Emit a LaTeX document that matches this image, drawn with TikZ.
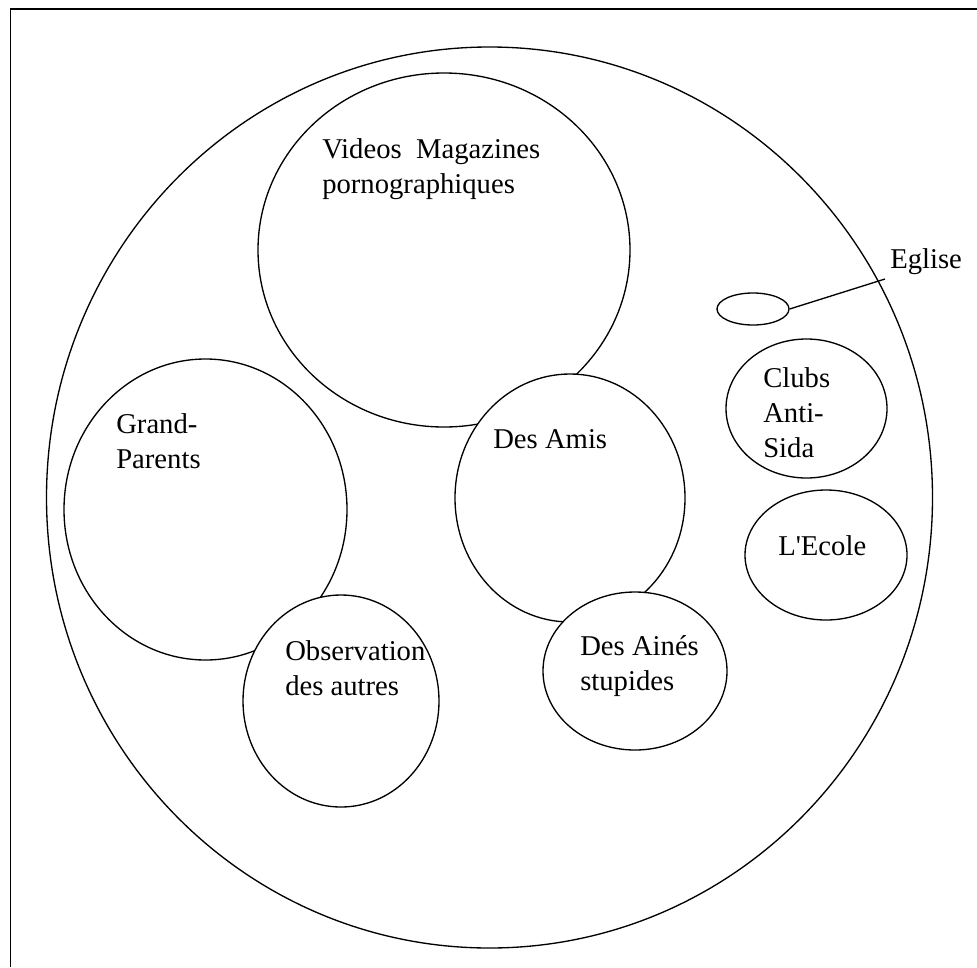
\documentclass[tikz,border=0pt]{standalone}
\usepackage{fontspec}
\setmainfont{Liberation Serif}
\usetikzlibrary{shapes.geometric}
\begin{document}
\begin{tikzpicture}[x=0.75pt,y=-0.75pt,
  ring/.style={ellipse,draw,fill=white,line width=1pt,inner sep=0pt},
  lbl/.style={anchor=base west,inner sep=0pt,align=left,font=\fontsize{21.5pt}{26pt}\selectfont},
  link/.style={line width=1pt}]
\useasboundingbox (0,0) rectangle (977,967);
% frame (top and left only)
\draw[line width=1pt] (10.5,967) -- (10.5,9) -- (977,9);
% outer circle
\node[ring,minimum width=664.5pt,minimum height=675.75pt] (outer) at (489.5,497.5) {};
% inner circles, drawn in stacking order
\node[ring,minimum width=279pt,minimum height=265.5pt] (videos) at (444,250) {};
\node[ring,minimum width=212.25pt,minimum height=225.75pt] (grand) at (205.5,509.5) {};
\node[ring,minimum width=172.5pt,minimum height=186pt] (amis) at (570,498) {};
\node[ring,minimum width=147pt,minimum height=159pt] (obs) at (341,701) {};
\node[ring,minimum width=138pt,minimum height=118.5pt] (aines) at (635,671) {};
\node[ring,minimum width=120.75pt,minimum height=104.25pt] (clubs) at (806.5,408.5) {};
\node[ring,minimum width=121.5pt,minimum height=97.5pt] (ecole) at (826,555) {};
\node[ring,minimum width=54pt,minimum height=24pt] (eglise) at (753,309) {};
% labels (base anchor = baseline of the last line)
\node[lbl] (tvideos) at (322,193) {Videos\ \ Magazines\\pornographiques};
\node[lbl] (tgrand) at (116,468) {Grand-\\Parents};
\node[lbl] (tamis) at (493,448) {Des Amis};
\node[lbl] (tobs) at (285,695) {Observation\\des autres};
\node[lbl] (taines) at (580,690) {Des Ainés\\stupides};
\node[lbl] (tclubs) at (763,457) {Clubs\\Anti-\\Sida};
\node[lbl] (tecole) at (778,555) {L\textquotesingle Ecole};
\node[lbl] (teglise) at (890,268) {Eglise};
% connector
\coordinate (eglend) at (885,279);
\draw[link] (eglise.east) -- (eglend);
\end{tikzpicture}
\end{document}
